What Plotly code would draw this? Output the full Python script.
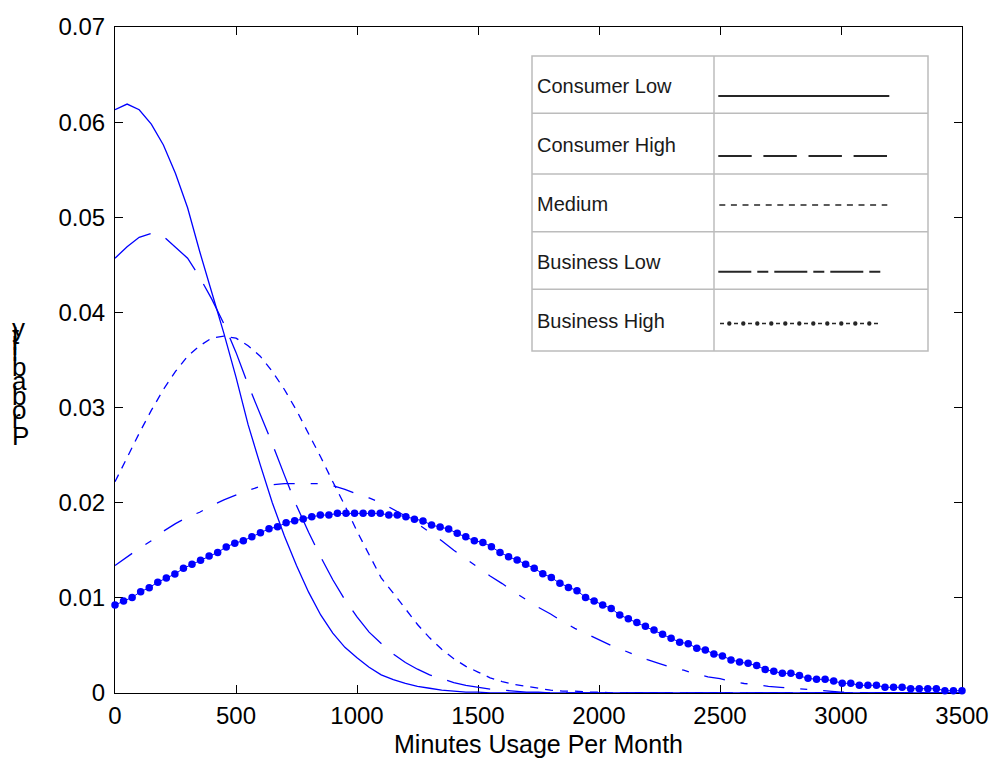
import plotly.graph_objects as go

# ---------------------------------------------------------------------------
# Data
# ---------------------------------------------------------------------------
series_names = ["Consumer Low", "Consumer High", "Medium", "Business Low", "Business High"]

# minutes grid for the four line profiles (0..3500 in steps of 50)
minutes = list(range(0, 3501, 50))

consumer_low = [
    0.0613, 0.0619, 0.0613, 0.0598, 0.0576, 0.0546, 0.0510, 0.0464, 0.0421, 0.0378,
    0.0332, 0.0282, 0.0240, 0.0200, 0.0165, 0.0134, 0.0106, 0.0082, 0.0063, 0.0048,
    0.0037, 0.0027, 0.0019, 0.0014, 0.0010, 0.0007, 0.0005, 0.0003, 0.0002, 0.0001,
    0.0001, 0.0000, 0.0000, 0.0000, 0.0000, 0.0000, 0.0000, 0.0000, 0.0000, 0.0000,
    0.0000, 0.0000, 0.0000, 0.0000, 0.0000, 0.0000, 0.0000, 0.0000, 0.0000, 0.0000,
    0.0000, 0.0000, 0.0000, 0.0000, 0.0000, 0.0000, 0.0000, 0.0000, 0.0000, 0.0000,
    0.0000, 0.0000, 0.0000, 0.0000, 0.0000, 0.0000, 0.0000, 0.0000, 0.0000, 0.0000,
    0.0000,
]

consumer_high = [
    0.0457, 0.0469, 0.0479, 0.0483, 0.0480, 0.0469, 0.0457, 0.0437, 0.0414, 0.0388,
    0.0358, 0.0324, 0.0294, 0.0262, 0.0229, 0.0197, 0.0169, 0.0143, 0.0119, 0.0098,
    0.0080, 0.0064, 0.0052, 0.0041, 0.0032, 0.0025, 0.0019, 0.0015, 0.0011, 0.0008,
    0.0006, 0.0004, 0.0003, 0.0002, 0.0001, 0.0001, 0.0000, 0.0000, 0.0000, 0.0000,
    0.0000, 0.0000, 0.0000, 0.0000, 0.0000, 0.0000, 0.0000, 0.0000, 0.0000, 0.0000,
    0.0000, 0.0000, 0.0000, 0.0000, 0.0000, 0.0000, 0.0000, 0.0000, 0.0000, 0.0000,
    0.0000, 0.0000, 0.0000, 0.0000, 0.0000, 0.0000, 0.0000, 0.0000, 0.0000, 0.0000,
    0.0000,
]

medium = [
    0.0222, 0.0248, 0.0273, 0.0297, 0.0319, 0.0338, 0.0354, 0.0365, 0.0373, 0.0375,
    0.0373, 0.0365, 0.0354, 0.0338, 0.0319, 0.0297, 0.0273, 0.0248, 0.0222, 0.0197,
    0.0170, 0.0145, 0.0121, 0.0105, 0.0088, 0.0072, 0.0058, 0.0046, 0.0036, 0.0028,
    0.0022, 0.0016, 0.0012, 0.0009, 0.0007, 0.0005, 0.0003, 0.0002, 0.0002, 0.0001,
    0.0001, 0.0000, 0.0000, 0.0000, 0.0000, 0.0000, 0.0000, 0.0000, 0.0000, 0.0000,
    0.0000, 0.0000, 0.0000, 0.0000, 0.0000, 0.0000, 0.0000, 0.0000, 0.0000, 0.0000,
    0.0000, 0.0000, 0.0000, 0.0000, 0.0000, 0.0000, 0.0000, 0.0000, 0.0000, 0.0000,
    0.0000,
]

business_low = [
    0.0134, 0.0143, 0.0152, 0.0160, 0.0170, 0.0178, 0.0185, 0.0190, 0.0197, 0.0203,
    0.0208, 0.0213, 0.0217, 0.0219, 0.0220, 0.0220, 0.0220, 0.0220, 0.0218, 0.0214,
    0.0209, 0.0205, 0.0200, 0.0193, 0.0186, 0.0178, 0.0169, 0.0160, 0.0150, 0.0141,
    0.0132, 0.0123, 0.0115, 0.0106, 0.0098, 0.0090, 0.0083, 0.0075, 0.0068, 0.0062,
    0.0056, 0.0050, 0.0045, 0.0040, 0.0035, 0.0031, 0.0027, 0.0024, 0.0020, 0.0017,
    0.0015, 0.0012, 0.0010, 0.0009, 0.0007, 0.0006, 0.0005, 0.0004, 0.0003, 0.0002,
    0.0001, 0.0001, 0.0000, 0.0000, 0.0000, 0.0000, 0.0000, 0.0000, 0.0000, 0.0000,
    0.0000,
]

# Business High is sampled on 100 evenly spaced points over 0..3500
minutes_fine = [i * 3500 / 99 for i in range(100)]
business_high = [
    0.00925, 0.00967, 0.01005, 0.01065, 0.01107, 0.01165, 0.01210, 0.01250, 0.01310, 0.01352,
    0.01394, 0.01439, 0.01478, 0.01535, 0.01575, 0.01600, 0.01642, 0.01684, 0.01726, 0.01747,
    0.01789, 0.01810, 0.01828, 0.01852, 0.01870, 0.01870, 0.01888, 0.01888, 0.01888, 0.01888,
    0.01888, 0.01888, 0.01870, 0.01870, 0.01852, 0.01826, 0.01808, 0.01765, 0.01744, 0.01723,
    0.01678, 0.01642, 0.01600, 0.01583, 0.01537, 0.01478, 0.01432, 0.01397, 0.01352, 0.01310,
    0.01254, 0.01214, 0.01153, 0.01110, 0.01075, 0.01005, 0.00967, 0.00925, 0.00888, 0.00820,
    0.00780, 0.00741, 0.00702, 0.00662, 0.00618, 0.00576, 0.00534, 0.00518, 0.00471, 0.00452,
    0.00411, 0.00390, 0.00348, 0.00327, 0.00312, 0.00289, 0.00247, 0.00229, 0.00207, 0.00207,
    0.00184, 0.00154, 0.00144, 0.00144, 0.00126, 0.00102, 0.00102, 0.00081, 0.00081, 0.00081,
    0.00060, 0.00060, 0.00060, 0.00045, 0.00045, 0.00045, 0.00045, 0.00024, 0.00024, 0.00024,
]

x_ticks = [0, 500, 1000, 1500, 2000, 2500, 3000, 3500]
x_tick_text = ["0", "500", "1000", "1500", "2000", "2500", "3000", "3500"]
y_ticks = [0, 0.01, 0.02, 0.03, 0.04, 0.05, 0.06, 0.07]
y_tick_text = ["0", "0.01", "0.02", "0.03", "0.04", "0.05", "0.06", "0.07"]

x_title = "Minutes Usage Per Month"
y_title = "Probability"

# ---------------------------------------------------------------------------
# Layout geometry (pixels in a 993 x 760 page)
# ---------------------------------------------------------------------------
W, H = 993, 760
PL, PR, PT, PB = 115, 962, 27, 693   # plot-area edges


def fx(px):
    return (px - PL) / (PR - PL)


def fy(py):
    return (PB - py) / (PB - PT)


FONT = "Liberation Sans, Arial, Helvetica, sans-serif"
BLUE = "#0000ff"

fig = go.Figure()

line_styles = [
    ("solid", consumer_low),
    ("44px,16px", consumer_high),
    ("8px,7px", medium),
    ("21px,16px,7px,16px", business_low),
]
for name, (dash, vals) in zip(series_names[:4], line_styles):
    fig.add_trace(go.Scatter(
        x=minutes, y=vals, name=name, mode="lines",
        line=dict(color=BLUE, width=1.3, dash=dash),
        cliponaxis=False, showlegend=False,
    ))

fig.add_trace(go.Scatter(
    x=minutes_fine, y=business_high, name=series_names[4], mode="lines+markers",
    line=dict(color=BLUE, width=1),
    marker=dict(color=BLUE, size=7.5),
    cliponaxis=False, showlegend=False,
))

axis_common = dict(
    showline=True, linecolor="black", linewidth=1, mirror="ticks",
    ticks="inside", ticklen=8, tickcolor="black", tickwidth=1,
    showgrid=False, zeroline=False, layer="below traces", automargin=False,
    tickfont=dict(family=FONT, size=24, color="black"),
)

fig.update_layout(
    width=W, height=H,
    margin=dict(l=PL, r=W - PR, t=PT, b=H - PB, pad=0, autoexpand=False),
    paper_bgcolor="white", plot_bgcolor="white",
    xaxis=dict(range=[0, 3500], tickvals=x_ticks, ticktext=x_tick_text,
               ticklabelstandoff=1, **axis_common),
    yaxis=dict(range=[0, 0.07], tickvals=y_ticks, ticktext=y_tick_text,
               ticklabelstandoff=4, **axis_common),
    showlegend=False,
)

annotations = []
shapes = []

# x-axis title
annotations.append(dict(
    text=x_title, x=0.5, y=fy(744), xref="paper", yref="paper",
    xanchor="center", yanchor="middle", showarrow=False,
    font=dict(family=FONT, size=25, color="black"),
))

# y-axis title: upright glyphs stacked upward along a vertical baseline
ADV = {"P": 0.667, "r": 0.333, "o": 0.556, "b": 0.556, "a": 0.556,
       "i": 0.222, "l": 0.222, "t": 0.278, "y": 0.5}
yfs = 26
base = 445.0
for ch in y_title:
    annotations.append(dict(
        text=ch, x=fx(10), y=fy(base - 0.3465 * yfs), xref="paper", yref="paper",
        xanchor="left", yanchor="middle", showarrow=False,
        font=dict(family=FONT, size=yfs, color="black"),
    ))
    base -= ADV.get(ch, 0.5) * yfs

# key table
TBL_L, TBL_R, TBL_MID = 532, 928, 714
row_edges = [56, 113.3, 174, 231.7, 289.3, 351]
text_mid = [86.3, 145.3, 203.8, 262, 320.8]
sample_y = [96, 156, 205, 271.7, 323.5]
GRID = "#bcbcbc"
INK = "#262626"

shapes.append(dict(type="rect", xref="paper", yref="paper",
                   x0=fx(TBL_L), x1=fx(TBL_R), y0=fy(row_edges[-1]), y1=fy(row_edges[0]),
                   line=dict(color=GRID, width=1.5), fillcolor="white", layer="above"))
for yy in row_edges[1:-1]:
    shapes.append(dict(type="line", xref="paper", yref="paper",
                       x0=fx(TBL_L), x1=fx(TBL_R), y0=fy(yy), y1=fy(yy),
                       line=dict(color=GRID, width=1.5), layer="above"))
shapes.append(dict(type="line", xref="paper", yref="paper",
                   x0=fx(TBL_MID), x1=fx(TBL_MID), y0=fy(row_edges[-1]), y1=fy(row_edges[0]),
                   line=dict(color=GRID, width=1.5), layer="above"))

for name, ym in zip(series_names, text_mid):
    annotations.append(dict(
        text=name, x=fx(534.5), y=fy(ym), xref="paper", yref="paper",
        xanchor="left", yanchor="middle", showarrow=False,
        font=dict(family=FONT, size=20, color="#1a1a1a"),
    ))

sample_specs = [
    (718.3, 889.3, "solid", 2),
    (718.3, 889.3, "33.4px,11.7px", 2),
    (719.3, 887.3, "6px,5.6px", 1.6),
    (718.3, 882.7, "33px,6px,11px,6px", 2),
    (720.0, 878.3, "4px,10px", 1.6),
]
for (x0, x1, dash, w), yy in zip(sample_specs, sample_y):
    shapes.append(dict(type="line", xref="paper", yref="paper",
                       x0=fx(x0), x1=fx(x1), y0=fy(yy), y1=fy(yy),
                       line=dict(color=INK, width=w, dash=dash), layer="above"))
for k in range(11):
    cx = 729.3 + 14 * k
    shapes.append(dict(type="circle", xref="paper", yref="paper",
                       xsizemode="pixel", ysizemode="pixel",
                       xanchor=fx(cx), yanchor=fy(sample_y[4]),
                       x0=-2.2, x1=2.2, y0=-2.2, y1=2.2,
                       line=dict(color=INK, width=0), fillcolor=INK, layer="above"))

fig.update_layout(annotations=annotations, shapes=shapes)

fig.write_html("out.html")
